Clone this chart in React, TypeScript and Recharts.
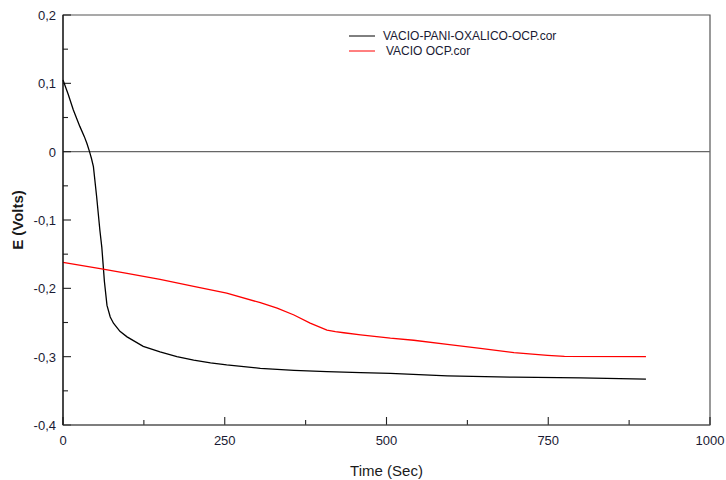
import React from "react";
import {
  LineChart,
  Line,
  XAxis,
  YAxis,
  ReferenceLine,
  ReferenceArea,
} from "recharts";

// VACIO-PANI-OXALICO-OCP.cor (black)
const paniTime = [0, 8, 16, 26, 33, 37, 41, 44, 47, 52, 57, 60, 62, 64, 68, 73, 78, 88, 99, 124, 150, 176, 202, 228, 253, 305, 357, 408, 460, 506, 594, 697, 800, 901];
const paniVolts = [0.105, 0.084, 0.061, 0.037, 0.022, 0.012, 0, -0.01, -0.022, -0.066, -0.115, -0.14, -0.165, -0.19, -0.225, -0.242, -0.251, -0.263, -0.271, -0.285, -0.293, -0.3, -0.305, -0.309, -0.312, -0.317, -0.32, -0.322, -0.3235, -0.3245, -0.328, -0.33, -0.331, -0.333];

// VACIO OCP.cor (red)
const vacioTime = [0, 62, 99, 150, 202, 253, 305, 331, 357, 382, 395, 408, 421, 434, 460, 506, 542, 594, 645, 697, 749, 775, 901];
const vacioVolts = [-0.162, -0.172, -0.178, -0.187, -0.197, -0.207, -0.221, -0.229, -0.239, -0.251, -0.256, -0.261, -0.2635, -0.265, -0.268, -0.273, -0.276, -0.282, -0.288, -0.294, -0.298, -0.2997, -0.3];

const xTicks = [0, 125, 250, 375, 500, 625, 750, 875, 1000];
const xLabeled = [0, 250, 500, 750, 1000];
const yTicks = [-0.4, -0.35, -0.3, -0.25, -0.2, -0.15, -0.1, -0.05, 0, 0.05, 0.1, 0.15, 0.2];
const yLabeled = [-0.4, -0.3, -0.2, -0.1, 0, 0.1, 0.2];

const seriesNames = ["VACIO-PANI-OXALICO-OCP.cor", "VACIO OCP.cor"];
const seriesColors = ["#000000", "#ff0000"];

const paniData = paniTime.map((t, i) => ({ t, v: paniVolts[i] }));
const vacioData = vacioTime.map((t, i) => ({ t, v: vacioVolts[i] }));

const X_MIN = 0;
const Y_MIN = -0.4;
// inward tick lengths, in axis units (~8px major, ~5px minor)
const Y_TICK_MAJOR = 12.4;
const Y_TICK_MINOR = 7.7;
const X_TICK_MAJOR = 0.0117;
const X_TICK_MINOR = 0.0073;

const FONT = "'Liberation Sans', Arial, sans-serif";
const PLOT_BOTTOM = 425;

const isLabeled = (list: number[], v: number) =>
  list.some((l) => Math.abs(l - v) < 1e-9);

const fmtY = (v: number) =>
  Math.abs(v) < 1e-9 ? "0" : v.toFixed(1).replace(".", ",");

function YTick(props: any) {
  const { y, payload } = props;
  if (!isLabeled(yLabeled, payload.value)) return <g />;
  return (
    <text
      x={56}
      y={y + 5}
      textAnchor="end"
      fontSize={13}
      fontFamily={FONT}
      fill="#1a1a33"
    >
      {fmtY(payload.value)}
    </text>
  );
}

function XTick(props: any) {
  const { x, payload } = props;
  if (!isLabeled(xLabeled, payload.value)) return <g />;
  return (
    <text
      x={x}
      y={PLOT_BOTTOM + 20}
      textAnchor="middle"
      fontSize={13}
      fontFamily={FONT}
      fill="#1a1a33"
    >
      {String(payload.value)}
    </text>
  );
}

function LegendBox() {
  return (
    <svg
      width={260}
      height={34}
      style={{ position: "absolute", left: 349, top: 29 }}
    >
      {seriesNames.map((name, i) => (
        <g key={name} transform={`translate(0, ${i * 15})`}>
          <line x1={0} x2={26} y1={7} y2={7} stroke={seriesColors[i]} />
          <text
            x={34 + i * 3}
            y={11}
            fontSize={12}
            fontFamily={FONT}
            fill="#1a1a33"
          >
            {name}
          </text>
        </g>
      ))}
    </svg>
  );
}

export default function App() {
  return (
    <div
      style={{
        position: "absolute",
        left: 0,
        top: 0,
        width: 726,
        height: 480,
        background: "#fff",
        fontFamily: FONT,
      }}
    >
      <LineChart
        width={726}
        height={480}
        margin={{ top: 15, right: 16, bottom: 0, left: 0 }}
      >
        <ReferenceArea
          x1={0}
          x2={1000}
          y1={-0.4}
          y2={0.2}
          fill="none"
          stroke="#555"
          strokeWidth={1.2}
        />
        <ReferenceLine y={0} stroke="#666" strokeWidth={1.2} />
        {yTicks.map((v) => (
          <ReferenceLine
            key={`yt${v}`}
            segment={[
              { x: X_MIN, y: v },
              { x: X_MIN + (isLabeled(yLabeled, v) ? Y_TICK_MAJOR : Y_TICK_MINOR), y: v },
            ]}
            stroke="#222"
            strokeWidth={1.1}
          />
        ))}
        {xTicks.map((t) => (
          <ReferenceLine
            key={`xt${t}`}
            segment={[
              { x: t, y: Y_MIN },
              { x: t, y: Y_MIN + (isLabeled(xLabeled, t) ? X_TICK_MAJOR : X_TICK_MINOR) },
            ]}
            stroke="#222"
            strokeWidth={1.1}
          />
        ))}
        <XAxis
          dataKey="t"
          type="number"
          domain={[0, 1000]}
          ticks={xTicks}
          interval={0}
          height={55}
          axisLine={{ stroke: "#555", strokeWidth: 1.2 }}
          tickLine={false}
          tick={<XTick />}
          allowDuplicatedCategory={false}
          label={{
            value: "Time (Sec)",
            position: "insideBottom",
            offset: 4,
            fontSize: 15,
            fontFamily: FONT,
            fill: "#1a1a1a",
          }}
        />
        <YAxis
          type="number"
          domain={[-0.4, 0.2]}
          ticks={yTicks}
          interval={0}
          width={63}
          axisLine={{ stroke: "#111", strokeWidth: 1.2 }}
          tickLine={false}
          tick={<YTick />}
          allowDataOverflow
          label={{
            value: "E (Volts)",
            angle: -90,
            position: "insideLeft",
            offset: 18,
            fontSize: 15,
            fontWeight: "bold",
            fontFamily: FONT,
            fill: "#1a1a1a",
            style: { textAnchor: "middle" },
          }}
        />
        <Line
          data={paniData}
          dataKey="v"
          name={seriesNames[0]}
          stroke={seriesColors[0]}
          strokeWidth={1.3}
          dot={false}
          type="linear"
          isAnimationActive={false}
        />
        <Line
          data={vacioData}
          dataKey="v"
          name={seriesNames[1]}
          stroke={seriesColors[1]}
          strokeWidth={1.3}
          dot={false}
          type="linear"
          isAnimationActive={false}
        />
      </LineChart>
      <LegendBox />
    </div>
  );
}
